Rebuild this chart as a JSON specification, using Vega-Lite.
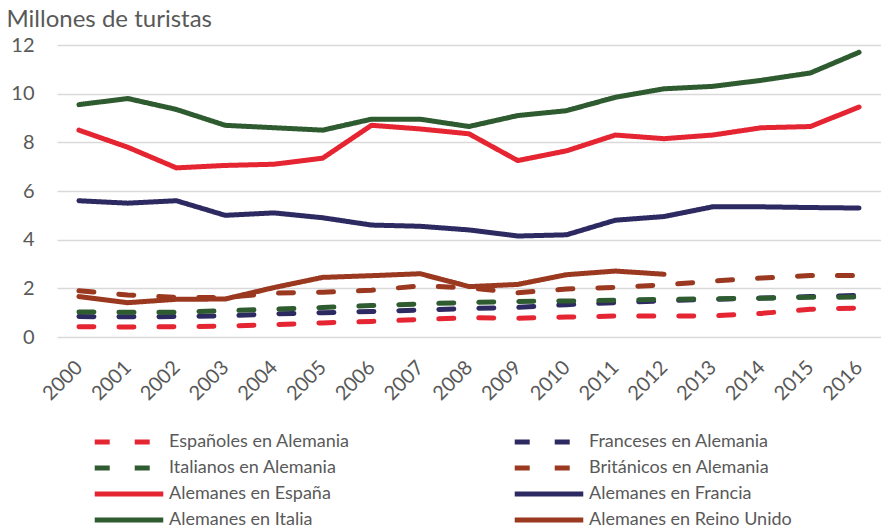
{
  "$schema": "https://vega.github.io/schema/vega-lite/v6.json",
  "width": 824,
  "height": 292,
  "autosize": {"type": "none"},
  "padding": {"left": 57, "top": 45, "right": 0, "bottom": 193},
  "background": "white",
  "config": {
    "view": {"stroke": null},
    "font": "Lato",
    "axis": {"labelFont": "Lato", "titleFont": "Lato", "labelColor": "#595959", "titleColor": "#595959"},
    "legend": {"labelFont": "Lato"}
  },
  "datasets": {
    "d": [
      {"year": "2000", "serie": "Españoles en Alemania", "value": 0.42},
      {"year": "2001", "serie": "Españoles en Alemania", "value": 0.41},
      {"year": "2002", "serie": "Españoles en Alemania", "value": 0.42},
      {"year": "2003", "serie": "Españoles en Alemania", "value": 0.45},
      {"year": "2004", "serie": "Españoles en Alemania", "value": 0.51},
      {"year": "2005", "serie": "Españoles en Alemania", "value": 0.58},
      {"year": "2006", "serie": "Españoles en Alemania", "value": 0.64},
      {"year": "2007", "serie": "Españoles en Alemania", "value": 0.72},
      {"year": "2008", "serie": "Españoles en Alemania", "value": 0.79},
      {"year": "2009", "serie": "Españoles en Alemania", "value": 0.77},
      {"year": "2010", "serie": "Españoles en Alemania", "value": 0.82},
      {"year": "2011", "serie": "Españoles en Alemania", "value": 0.86},
      {"year": "2012", "serie": "Españoles en Alemania", "value": 0.86},
      {"year": "2013", "serie": "Españoles en Alemania", "value": 0.87},
      {"year": "2014", "serie": "Españoles en Alemania", "value": 0.97},
      {"year": "2015", "serie": "Españoles en Alemania", "value": 1.14},
      {"year": "2016", "serie": "Españoles en Alemania", "value": 1.19},

      {"year": "2000", "serie": "Franceses en Alemania", "value": 0.84},
      {"year": "2001", "serie": "Franceses en Alemania", "value": 0.83},
      {"year": "2002", "serie": "Franceses en Alemania", "value": 0.84},
      {"year": "2003", "serie": "Franceses en Alemania", "value": 0.87},
      {"year": "2004", "serie": "Franceses en Alemania", "value": 0.95},
      {"year": "2005", "serie": "Franceses en Alemania", "value": 1.0},
      {"year": "2006", "serie": "Franceses en Alemania", "value": 1.05},
      {"year": "2007", "serie": "Franceses en Alemania", "value": 1.11},
      {"year": "2008", "serie": "Franceses en Alemania", "value": 1.17},
      {"year": "2009", "serie": "Franceses en Alemania", "value": 1.22},
      {"year": "2010", "serie": "Franceses en Alemania", "value": 1.33},
      {"year": "2011", "serie": "Franceses en Alemania", "value": 1.41},
      {"year": "2012", "serie": "Franceses en Alemania", "value": 1.49},
      {"year": "2013", "serie": "Franceses en Alemania", "value": 1.55},
      {"year": "2014", "serie": "Franceses en Alemania", "value": 1.6},
      {"year": "2015", "serie": "Franceses en Alemania", "value": 1.66},
      {"year": "2016", "serie": "Franceses en Alemania", "value": 1.71},

      {"year": "2000", "serie": "Italianos en Alemania", "value": 1.03},
      {"year": "2001", "serie": "Italianos en Alemania", "value": 1.02},
      {"year": "2002", "serie": "Italianos en Alemania", "value": 1.02},
      {"year": "2003", "serie": "Italianos en Alemania", "value": 1.08},
      {"year": "2004", "serie": "Italianos en Alemania", "value": 1.14},
      {"year": "2005", "serie": "Italianos en Alemania", "value": 1.21},
      {"year": "2006", "serie": "Italianos en Alemania", "value": 1.29},
      {"year": "2007", "serie": "Italianos en Alemania", "value": 1.36},
      {"year": "2008", "serie": "Italianos en Alemania", "value": 1.42},
      {"year": "2009", "serie": "Italianos en Alemania", "value": 1.46},
      {"year": "2010", "serie": "Italianos en Alemania", "value": 1.48},
      {"year": "2011", "serie": "Italianos en Alemania", "value": 1.51},
      {"year": "2012", "serie": "Italianos en Alemania", "value": 1.55},
      {"year": "2013", "serie": "Italianos en Alemania", "value": 1.57},
      {"year": "2014", "serie": "Italianos en Alemania", "value": 1.59},
      {"year": "2015", "serie": "Italianos en Alemania", "value": 1.63},
      {"year": "2016", "serie": "Italianos en Alemania", "value": 1.64},

      {"year": "2000", "serie": "Británicos en Alemania", "value": 1.9},
      {"year": "2001", "serie": "Británicos en Alemania", "value": 1.73},
      {"year": "2002", "serie": "Británicos en Alemania", "value": 1.63},
      {"year": "2003", "serie": "Británicos en Alemania", "value": 1.62},
      {"year": "2004", "serie": "Británicos en Alemania", "value": 1.8},
      {"year": "2005", "serie": "Británicos en Alemania", "value": 1.84},
      {"year": "2006", "serie": "Británicos en Alemania", "value": 1.92},
      {"year": "2007", "serie": "Británicos en Alemania", "value": 2.1},
      {"year": "2008", "serie": "Británicos en Alemania", "value": 2.02},
      {"year": "2009", "serie": "Británicos en Alemania", "value": 1.82},
      {"year": "2010", "serie": "Británicos en Alemania", "value": 1.97},
      {"year": "2011", "serie": "Británicos en Alemania", "value": 2.04},
      {"year": "2012", "serie": "Británicos en Alemania", "value": 2.14},
      {"year": "2013", "serie": "Británicos en Alemania", "value": 2.3},
      {"year": "2014", "serie": "Británicos en Alemania", "value": 2.42},
      {"year": "2015", "serie": "Británicos en Alemania", "value": 2.53},
      {"year": "2016", "serie": "Británicos en Alemania", "value": 2.53},

      {"year": "2000", "serie": "Alemanes en España", "value": 8.5},
      {"year": "2001", "serie": "Alemanes en España", "value": 7.8},
      {"year": "2002", "serie": "Alemanes en España", "value": 6.95},
      {"year": "2003", "serie": "Alemanes en España", "value": 7.05},
      {"year": "2004", "serie": "Alemanes en España", "value": 7.1},
      {"year": "2005", "serie": "Alemanes en España", "value": 7.35},
      {"year": "2006", "serie": "Alemanes en España", "value": 8.7},
      {"year": "2007", "serie": "Alemanes en España", "value": 8.55},
      {"year": "2008", "serie": "Alemanes en España", "value": 8.35},
      {"year": "2009", "serie": "Alemanes en España", "value": 7.25},
      {"year": "2010", "serie": "Alemanes en España", "value": 7.65},
      {"year": "2011", "serie": "Alemanes en España", "value": 8.3},
      {"year": "2012", "serie": "Alemanes en España", "value": 8.15},
      {"year": "2013", "serie": "Alemanes en España", "value": 8.3},
      {"year": "2014", "serie": "Alemanes en España", "value": 8.6},
      {"year": "2015", "serie": "Alemanes en España", "value": 8.65},
      {"year": "2016", "serie": "Alemanes en España", "value": 9.45},

      {"year": "2000", "serie": "Alemanes en Francia", "value": 5.6},
      {"year": "2001", "serie": "Alemanes en Francia", "value": 5.5},
      {"year": "2002", "serie": "Alemanes en Francia", "value": 5.6},
      {"year": "2003", "serie": "Alemanes en Francia", "value": 5.0},
      {"year": "2004", "serie": "Alemanes en Francia", "value": 5.1},
      {"year": "2005", "serie": "Alemanes en Francia", "value": 4.9},
      {"year": "2006", "serie": "Alemanes en Francia", "value": 4.6},
      {"year": "2007", "serie": "Alemanes en Francia", "value": 4.55},
      {"year": "2008", "serie": "Alemanes en Francia", "value": 4.4},
      {"year": "2009", "serie": "Alemanes en Francia", "value": 4.15},
      {"year": "2010", "serie": "Alemanes en Francia", "value": 4.2},
      {"year": "2011", "serie": "Alemanes en Francia", "value": 4.8},
      {"year": "2012", "serie": "Alemanes en Francia", "value": 4.95},
      {"year": "2013", "serie": "Alemanes en Francia", "value": 5.35},
      {"year": "2014", "serie": "Alemanes en Francia", "value": 5.35},
      {"year": "2015", "serie": "Alemanes en Francia", "value": 5.32},
      {"year": "2016", "serie": "Alemanes en Francia", "value": 5.3},

      {"year": "2000", "serie": "Alemanes en Italia", "value": 9.55},
      {"year": "2001", "serie": "Alemanes en Italia", "value": 9.8},
      {"year": "2002", "serie": "Alemanes en Italia", "value": 9.35},
      {"year": "2003", "serie": "Alemanes en Italia", "value": 8.7},
      {"year": "2004", "serie": "Alemanes en Italia", "value": 8.6},
      {"year": "2005", "serie": "Alemanes en Italia", "value": 8.5},
      {"year": "2006", "serie": "Alemanes en Italia", "value": 8.95},
      {"year": "2007", "serie": "Alemanes en Italia", "value": 8.95},
      {"year": "2008", "serie": "Alemanes en Italia", "value": 8.65},
      {"year": "2009", "serie": "Alemanes en Italia", "value": 9.1},
      {"year": "2010", "serie": "Alemanes en Italia", "value": 9.3},
      {"year": "2011", "serie": "Alemanes en Italia", "value": 9.85},
      {"year": "2012", "serie": "Alemanes en Italia", "value": 10.2},
      {"year": "2013", "serie": "Alemanes en Italia", "value": 10.3},
      {"year": "2014", "serie": "Alemanes en Italia", "value": 10.55},
      {"year": "2015", "serie": "Alemanes en Italia", "value": 10.85},
      {"year": "2016", "serie": "Alemanes en Italia", "value": 11.7},

      {"year": "2000", "serie": "Alemanes en Reino Unido", "value": 1.66},
      {"year": "2001", "serie": "Alemanes en Reino Unido", "value": 1.41},
      {"year": "2002", "serie": "Alemanes en Reino Unido", "value": 1.55},
      {"year": "2003", "serie": "Alemanes en Reino Unido", "value": 1.56},
      {"year": "2004", "serie": "Alemanes en Reino Unido", "value": 2.03},
      {"year": "2005", "serie": "Alemanes en Reino Unido", "value": 2.45},
      {"year": "2006", "serie": "Alemanes en Reino Unido", "value": 2.52},
      {"year": "2007", "serie": "Alemanes en Reino Unido", "value": 2.6},
      {"year": "2008", "serie": "Alemanes en Reino Unido", "value": 2.07},
      {"year": "2009", "serie": "Alemanes en Reino Unido", "value": 2.16},
      {"year": "2010", "serie": "Alemanes en Reino Unido", "value": 2.56},
      {"year": "2011", "serie": "Alemanes en Reino Unido", "value": 2.71},
      {"year": "2012", "serie": "Alemanes en Reino Unido", "value": 2.58}
    ]
  },
  "data": {"name": "d"},
  "mark": {"type": "line", "strokeWidth": 5, "strokeCap": "round", "strokeJoin": "round"},
  "encoding": {
    "x": {
      "field": "year",
      "type": "ordinal",
      "scale": {"type": "point", "padding": 0.45},
      "axis": {
        "title": null,
        "labelAngle": -45,
        "labelAlign": "right",
        "labelBaseline": "middle",
        "labelFontSize": 20,
        "labelPadding": 27,
        "ticks": false,
        "domain": false,
        "grid": false
      }
    },
    "y": {
      "field": "value",
      "type": "quantitative",
      "scale": {"domain": [0, 12], "nice": false},
      "axis": {
        "values": [0, 2, 4, 6, 8, 10, 12],
        "title": "Millones de turistas",
        "titleAngle": 0,
        "titleAlign": "left",
        "titleBaseline": "alphabetic",
        "titleX": -51,
        "titleY": -19,
        "titleFontSize": 24,
        "titleFontWeight": "normal",
        "labelFontSize": 20,
        "labelPadding": 23,
        "ticks": false,
        "domain": false,
        "grid": true,
        "gridColor": "#d9d9d9",
        "gridWidth": 1.5
      }
    },
    "color": {
      "field": "serie",
      "type": "nominal",
      "sort": null,
      "scale": {
        "domain": ["Españoles en Alemania", "Italianos en Alemania", "Alemanes en España", "Alemanes en Italia", "Franceses en Alemania", "Británicos en Alemania", "Alemanes en Francia", "Alemanes en Reino Unido"],
        "range": ["#e52532", "#2e5b2f", "#e52532", "#2e5b2f", "#2d2a62", "#9a3820", "#2d2a62", "#9a3820"]
      },
      "legend": {
        "title": null,
        "orient": "none",
        "legendX": 35,
        "legendY": 384,
        "columns": 2,
        "columnPadding": 162,
        "rowPadding": 0,
        "clipHeight": 26,
        "symbolType": "stroke",
        "symbolStrokeWidth": 5,
        "symbolSize": 4700,
        "labelFontSize": 18,
        "labelColor": "#595959",
        "labelOffset": 3,
        "labelLimit": 400
      }
    },
    "strokeDash": {
      "field": "serie",
      "type": "nominal",
      "sort": null,
      "scale": {
        "domain": ["Españoles en Alemania", "Italianos en Alemania", "Alemanes en España", "Alemanes en Italia", "Franceses en Alemania", "Británicos en Alemania", "Alemanes en Francia", "Alemanes en Reino Unido"],
        "range": [[15, 25], [15, 25], [1, 0], [1, 0], [15, 25], [15, 25], [1, 0], [1, 0]]
      }
    }
  }
}
